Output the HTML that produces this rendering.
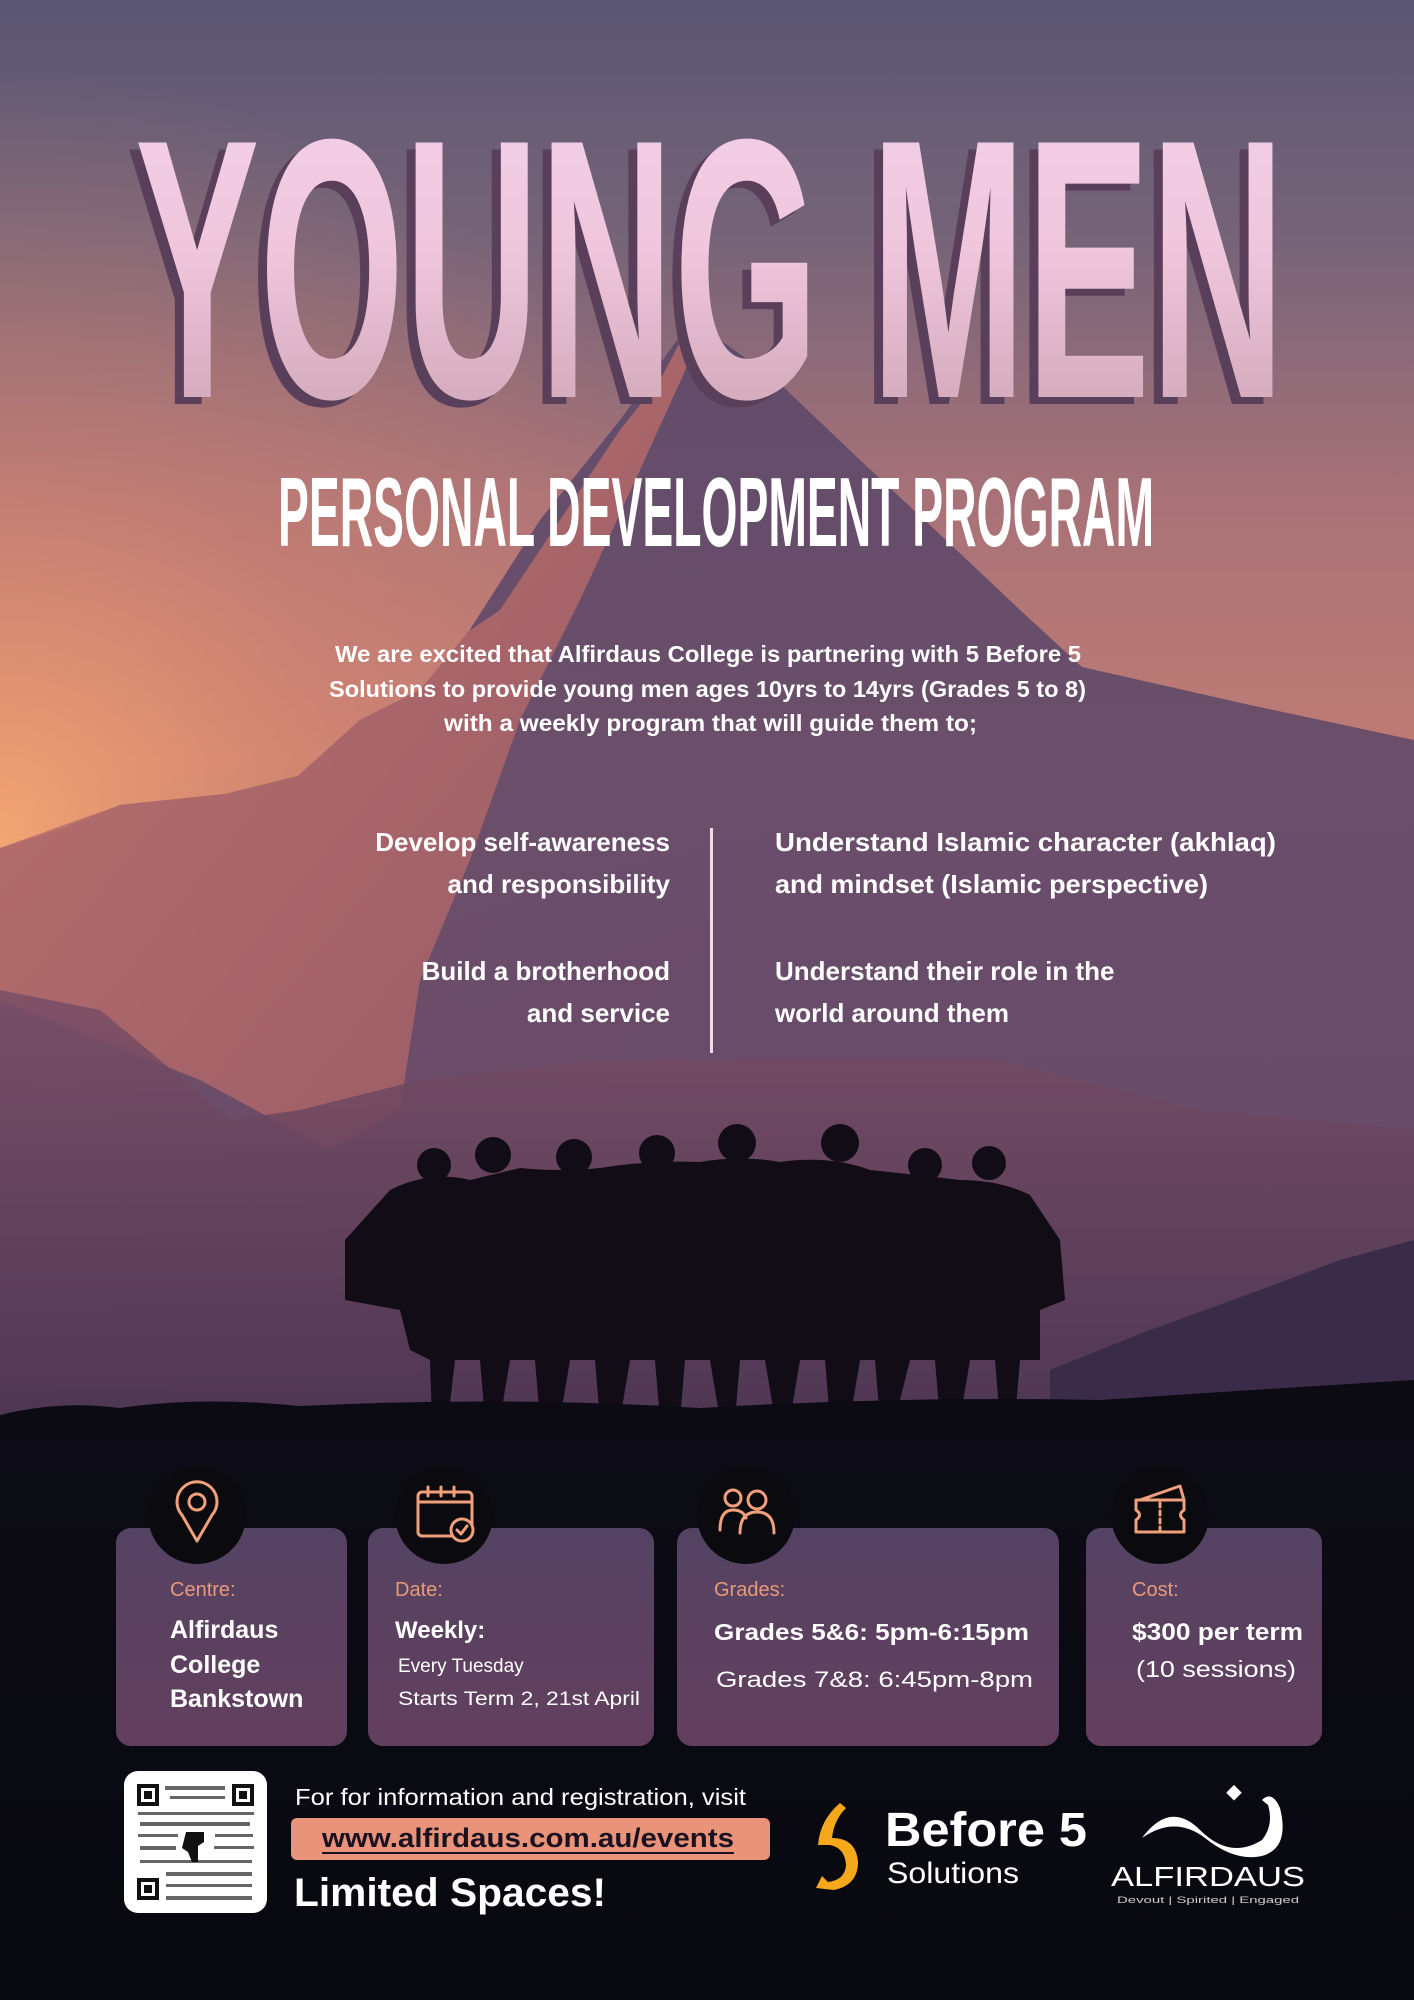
<!DOCTYPE html>
<html><head><meta charset="utf-8"><style>
html,body{margin:0;padding:0;background:#0b0b14;}
svg{display:block}
text{font-family:"Liberation Sans",sans-serif;}
</style></head><body>
<svg width="1414" height="2000" viewBox="0 0 1414 2000" xmlns="http://www.w3.org/2000/svg">
<defs>
<linearGradient id="sky" x1="0" y1="0" x2="0" y2="1">
<stop offset="0" stop-color="#5a5672"/>
<stop offset="0.12" stop-color="#766478"/>
<stop offset="0.25" stop-color="#a87278"/>
<stop offset="0.38" stop-color="#c07c74"/>
<stop offset="0.5" stop-color="#8e5f72"/>
<stop offset="0.62" stop-color="#6a4a66"/>
<stop offset="0.69" stop-color="#3a2a40"/>
<stop offset="0.715" stop-color="#0d0c16"/>
<stop offset="1" stop-color="#08080f"/>
</linearGradient>
<radialGradient id="glow" cx="0" cy="0.6" r="0.55">
<stop offset="0" stop-color="#f6a872" stop-opacity="0.95"/>
<stop offset="0.5" stop-color="#e08a70" stop-opacity="0.4"/>
<stop offset="1" stop-color="#e08a70" stop-opacity="0"/>
</radialGradient>
<linearGradient id="lit" x1="0" y1="0" x2="1" y2="1">
<stop offset="0" stop-color="#c7786e"/>
<stop offset="1" stop-color="#9a5a66"/>
</linearGradient>
<linearGradient id="shade" x1="0" y1="0" x2="0" y2="1">
<stop offset="0" stop-color="#5e4a6a"/>
<stop offset="1" stop-color="#6a4a68"/>
</linearGradient>
<linearGradient id="hill" x1="0" y1="0" x2="0" y2="1">
<stop offset="0" stop-color="#7a4e66"/>
<stop offset="1" stop-color="#4a3450"/>
</linearGradient>
<linearGradient id="title" x1="0" y1="0" x2="0" y2="1">
<stop offset="0" stop-color="#f2d2ec"/>
<stop offset="0.45" stop-color="#f0c6dc"/>
<stop offset="1" stop-color="#c8a0ae"/>
</linearGradient>
<linearGradient id="card" x1="0" y1="0" x2="0" y2="1">
<stop offset="0" stop-color="#544262"/>
<stop offset="1" stop-color="#633f5e"/>
</linearGradient>
</defs>
<rect width="1414" height="2000" fill="url(#sky)"/>
<rect width="1414" height="1400" fill="url(#glow)"/>
<!-- mountain -->
<polygon points="694,316 720,340 775,379 860,460 947,541 1020,610 1082,667 1250,705 1414,740 1414,1420 0,1420 0,848 60,830 120,805 225,794 298,776 360,720 420,690 469,631 540,520 620,420" fill="url(#shade)" opacity="0.92"/>
<polygon points="694,316 660,380 620,430 560,520 500,610 469,631 420,690 360,720 298,776 225,794 120,805 0,848 0,1000 200,1080 330,1150 400,1110 420,980 470,860 520,720 580,600 640,470 690,360" fill="url(#lit)" opacity="0.9"/>
<!-- front hills -->
<polygon points="0,990 100,1010 160,1060 230,1120 300,1110 420,1080 600,1060 800,1060 1000,1060 1200,1110 1414,1130 1414,1420 0,1420" fill="url(#hill)" opacity="0.85"/>
<polygon points="1050,1370 1150,1330 1260,1290 1340,1260 1414,1240 1414,1420 1050,1420" fill="#3a2c48"/>
<!-- people -->
<g fill="#120c16">
<circle cx="434" cy="1165" r="17"/><circle cx="493" cy="1155" r="18"/><circle cx="574" cy="1157" r="18"/><circle cx="657" cy="1153" r="18"/><circle cx="737" cy="1143" r="19"/><circle cx="840" cy="1143" r="19"/><circle cx="925" cy="1165" r="17"/><circle cx="989" cy="1163" r="17"/>
<path d="M390,1190 Q430,1170 470,1180 L520,1168 Q560,1172 600,1168 Q650,1160 700,1162 Q740,1155 780,1162 Q830,1155 870,1170 Q920,1175 960,1180 Q1000,1180 1030,1195 L1060,1240 L1065,1300 L1040,1310 L1040,1360 L1020,1360 L1015,1420 L1000,1420 L995,1360 L970,1360 L960,1420 L940,1420 L935,1360 L910,1360 L895,1420 L880,1420 L875,1360 L860,1360 L850,1420 L830,1420 L825,1360 L800,1360 L790,1420 L775,1420 L765,1360 L740,1360 L735,1420 L720,1420 L710,1360 L685,1360 L680,1420 L660,1420 L655,1360 L630,1360 L620,1420 L600,1420 L595,1360 L570,1360 L560,1420 L540,1420 L535,1360 L510,1360 L500,1420 L485,1420 L480,1360 L455,1360 L448,1420 L432,1420 L430,1360 L410,1350 L400,1310 L345,1300 L345,1240 Z"/>
</g>
<path d="M0,1415 Q60,1400 120,1408 Q200,1396 300,1406 Q500,1396 700,1408 Q900,1396 1100,1400 Q1250,1390 1414,1380 L1414,1440 L0,1440 Z" fill="#0c0b14"/>

<!-- title -->
<text x="126" y="404" font-size="370" font-weight="bold" fill="#5a3f5a" textLength="1150" lengthAdjust="spacingAndGlyphs">YOUNG MEN</text>
<text x="135" y="397" font-size="370" font-weight="bold" fill="url(#title)" textLength="1150" lengthAdjust="spacingAndGlyphs">YOUNG MEN</text>
<text x="278" y="546" font-size="98" font-weight="bold" fill="#ffffff" textLength="876" lengthAdjust="spacingAndGlyphs">PERSONAL DEVELOPMENT PROGRAM</text>

<g font-size="23" font-weight="bold" fill="#fff">
<text x="335" y="662" textLength="746" lengthAdjust="spacingAndGlyphs">We are excited that Alfirdaus College is partnering with 5 Before 5</text>
<text x="329" y="697" textLength="757" lengthAdjust="spacingAndGlyphs">Solutions to provide young men ages 10yrs to 14yrs (Grades 5 to 8)</text>
<text x="444" y="731" textLength="533" lengthAdjust="spacingAndGlyphs">with a weekly program that will guide them to;</text>
</g>
<g font-size="26" font-weight="bold" fill="#fff">
<text x="670" y="851" text-anchor="end">Develop self-awareness</text>
<text x="670" y="893" text-anchor="end">and responsibility</text>
<text x="670" y="980" text-anchor="end">Build a brotherhood</text>
<text x="670" y="1022" text-anchor="end">and service</text>
<text x="775" y="851" textLength="501" lengthAdjust="spacingAndGlyphs">Understand Islamic character (akhlaq)</text>
<text x="775" y="893" textLength="433" lengthAdjust="spacingAndGlyphs">and mindset (Islamic perspective)</text>
<text x="775" y="980">Understand their role in the</text>
<text x="775" y="1022">world around them</text>
</g>
<rect x="710" y="828" width="3" height="225" fill="#f3dbe4"/>

<!-- cards -->
<rect x="116" y="1528" width="231" height="218" rx="15" fill="url(#card)"/>
<rect x="368" y="1528" width="286" height="218" rx="15" fill="url(#card)"/>
<rect x="677" y="1528" width="382" height="218" rx="15" fill="url(#card)"/>
<rect x="1086" y="1528" width="236" height="218" rx="15" fill="url(#card)"/>
<g fill="#0b0a0e"><circle cx="197" cy="1515" r="49"/><circle cx="444" cy="1515" r="49"/><circle cx="746" cy="1515" r="49"/><circle cx="1160" cy="1515" r="49"/></g>
<g stroke="#f0a07a" stroke-width="3" fill="none" stroke-linecap="round" stroke-linejoin="round">
<path d="M197,1541 L182,1515 A20,20 0 1 1 212,1515 Z"/><circle cx="197" cy="1502" r="8"/>
<rect x="418" y="1492" width="54" height="44" rx="4"/><line x1="418" y1="1502" x2="472" y2="1502"/>
<line x1="428" y1="1487" x2="428" y2="1496"/><line x1="441" y1="1487" x2="441" y2="1496"/><line x1="454" y1="1487" x2="454" y2="1496"/>
<circle cx="462" cy="1530" r="11" fill="#0b0a0e"/><path d="M457,1530 L461,1534 L467,1526"/>
<circle cx="733" cy="1498" r="8"/><path d="M720,1530 Q720,1510 733,1510 Q743,1510 746,1518"/>
<circle cx="757" cy="1500" r="9"/><path d="M740,1533 Q740,1512 757,1512 Q774,1512 774,1533"/>
<path d="M1136,1500 L1184,1500 L1184,1510 Q1177,1515 1184,1520 L1184,1532 L1136,1532 L1136,1520 Q1143,1515 1136,1510 Z"/><line x1="1160" y1="1503" x2="1160" y2="1530" stroke-dasharray="4 4"/><path d="M1140,1500 L1180,1486 L1184,1500"/>
</g>
<g font-size="20" fill="#e89a78">
<text x="170" y="1596">Centre:</text><text x="395" y="1596">Date:</text><text x="714" y="1596">Grades:</text><text x="1132" y="1596">Cost:</text>
</g>
<g fill="#fff">
<text x="170" y="1638" font-size="25" font-weight="bold">Alfirdaus</text>
<text x="170" y="1673" font-size="25" font-weight="bold">College</text>
<text x="170" y="1707" font-size="25" font-weight="bold">Bankstown</text>
<text x="395" y="1638" font-size="24" font-weight="bold">Weekly:</text>
<text x="398" y="1672" font-size="19">Every Tuesday</text>
<text x="398" y="1705" font-size="19" textLength="242" lengthAdjust="spacingAndGlyphs">Starts Term 2, 21st April</text>
<text x="714" y="1640" font-size="23" font-weight="bold" textLength="315" lengthAdjust="spacingAndGlyphs">Grades 5&amp;6: 5pm-6:15pm</text>
<text x="716" y="1687" font-size="22" textLength="317" lengthAdjust="spacingAndGlyphs">Grades 7&amp;8: 6:45pm-8pm</text>
<text x="1132" y="1640" font-size="24" font-weight="bold" textLength="171" lengthAdjust="spacingAndGlyphs">$300 per term</text>
<text x="1136" y="1677" font-size="23" textLength="160" lengthAdjust="spacingAndGlyphs">(10 sessions)</text>
</g>

<!-- bottom -->
<rect x="124" y="1771" width="143" height="142" rx="14" fill="#fff"/>
<g fill="#111">
<rect x="137" y="1784" width="22" height="22"/><rect x="232" y="1784" width="22" height="22"/><rect x="137" y="1878" width="22" height="22"/>
</g>
<g fill="#fff"><rect x="141" y="1788" width="14" height="14"/><rect x="236" y="1788" width="14" height="14"/><rect x="141" y="1882" width="14" height="14"/></g>
<g fill="#111"><rect x="144" y="1791" width="8" height="8"/><rect x="239" y="1791" width="8" height="8"/><rect x="144" y="1885" width="8" height="8"/></g>
<g fill="#333" opacity="0.75">
<rect x="165" y="1786" width="60" height="4"/><rect x="170" y="1796" width="55" height="3"/><rect x="138" y="1812" width="116" height="3"/><rect x="140" y="1822" width="110" height="4"/><rect x="138" y="1834" width="40" height="3"/><rect x="215" y="1834" width="38" height="3"/><rect x="140" y="1846" width="36" height="4"/><rect x="214" y="1846" width="40" height="3"/><rect x="140" y="1860" width="112" height="3"/><rect x="166" y="1872" width="86" height="4"/><rect x="166" y="1884" width="86" height="3"/><rect x="166" y="1896" width="86" height="4"/>
</g>
<path d="M186,1832 L204,1832 L204,1842 L198,1846 L198,1862 L192,1862 L188,1852 L182,1848 Z" fill="#111"/>
<text x="295" y="1805" font-size="23" fill="#fff" textLength="451" lengthAdjust="spacingAndGlyphs">For for information and registration, visit</text>
<rect x="291" y="1818" width="479" height="42" rx="6" fill="#e8937a"/>
<text x="322" y="1847" font-size="27" font-weight="bold" fill="#1a1220" textLength="412" lengthAdjust="spacingAndGlyphs">www.alfirdaus.com.au/events</text>
<rect x="322" y="1852" width="412" height="2" fill="#1a1220"/>
<text x="294" y="1906" font-size="40" font-weight="bold" fill="#fff" textLength="312" lengthAdjust="spacingAndGlyphs">Limited Spaces!</text>

<path d="M840,1803 Q820,1820 818,1845 L830,1845 Q845,1848 846,1865 Q845,1880 828,1882 L822,1876 L816,1888 L834,1890 Q858,1885 858,1862 Q856,1838 832,1838 Q834,1820 846,1808 Z" fill="#f5a81c"/>
<text x="885" y="1846" font-size="48" font-weight="bold" fill="#fff" textLength="202" lengthAdjust="spacingAndGlyphs">Before 5</text>
<text x="887" y="1883" font-size="30" fill="#fff" textLength="132" lengthAdjust="spacingAndGlyphs">Solutions</text>

<path d="M1142,1838 Q1170,1800 1200,1830 Q1230,1860 1262,1840 Q1274,1825 1268,1805 L1262,1800 Q1272,1790 1280,1808 Q1290,1848 1262,1856 Q1235,1862 1205,1838 Q1175,1815 1142,1838 Z" fill="#fff"/>
<rect x="1229" y="1787" width="11" height="11" transform="rotate(45 1234 1792)" fill="#fff"/>
<text x="1111" y="1886" font-size="28" fill="#fff" textLength="194" lengthAdjust="spacingAndGlyphs">ALFIRDAUS</text>
<text x="1117" y="1903" font-size="9" fill="#ccc" textLength="182" lengthAdjust="spacingAndGlyphs">Devout | Spirited | Engaged</text>
</svg>
</body></html>
